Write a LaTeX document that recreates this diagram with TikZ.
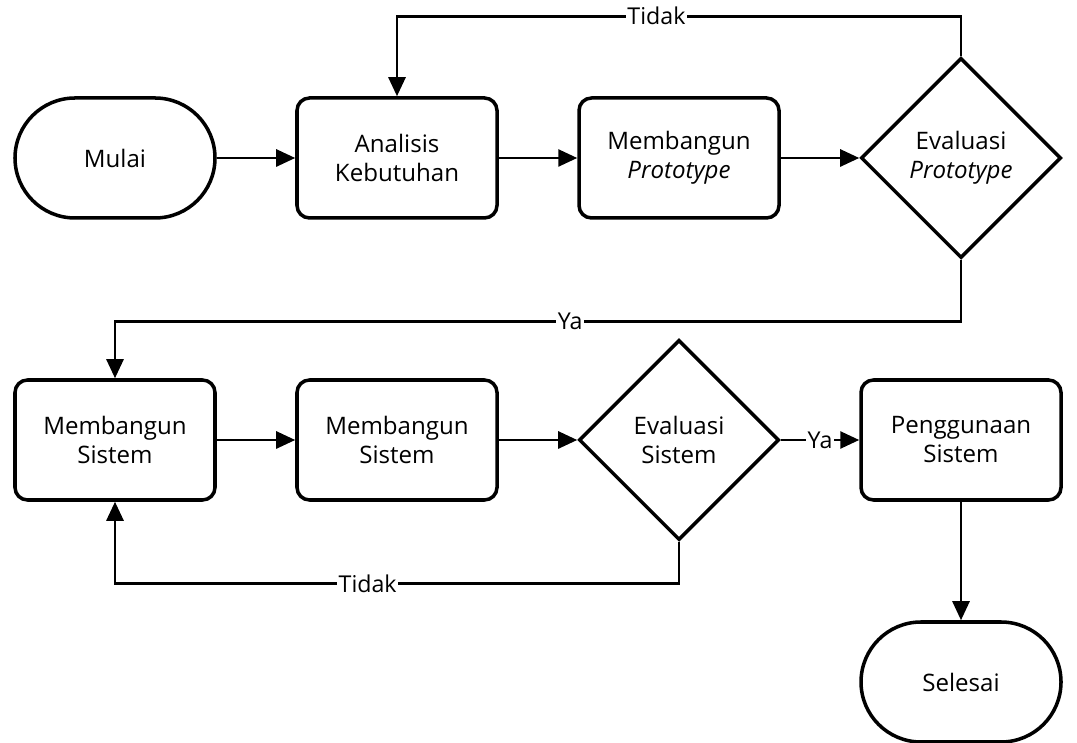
\documentclass[tikz,border=0pt]{standalone}
\usepackage{fontspec}
\setmainfont{Open Sans}
\usetikzlibrary{arrows.meta,positioning,shapes.geometric}
\tikzset{
  procbox/.style={draw, line width=2pt, rounded corners=0.25cm, minimum width=4cm, minimum height=2.4cm, align=center, font=\fontsize{13.7}{16.5}\selectfont},
  termbox/.style={procbox, rounded corners=1.2cm},
  decbox/.style={draw, line width=2pt, diamond, minimum width=4cm, minimum height=4cm, inner sep=0pt, align=center, font=\fontsize{13.7}{16.5}\selectfont},
  flowline/.style={line width=1.5pt, -{Triangle[length=3.8mm,width=3.4mm]}},
  lbl/.style={fill=white, inner sep=1pt, font=\fontsize{13.2}{15}\selectfont}
}
\begin{document}
\begin{tikzpicture}
  \useasboundingbox (0,0) rectangle (21.54,14.84);
  % Top row
  \node[termbox] (mulai) at (2.3,11.68) {Mulai};
  \node[procbox] (anl) at (7.94,11.68) {Analisis\\Kebutuhan};
  \node[procbox] (mbp) at (13.58,11.68) {Membangun\\\textit{Prototype}};
  \node[decbox] (evp) at (19.22,11.68) {Evaluasi\\\textit{Prototype}};

  % Bottom row
  \node[procbox] (ms1) at (2.3,6.04) {Membangun\\Sistem};
  \node[procbox] (ms2) at (7.94,6.04) {Membangun\\Sistem};
  \node[decbox] (evs) at (13.58,6.04) {Evaluasi\\Sistem};
  \node[procbox] (pgs) at (19.22,6.04) {Penggunaan\\Sistem};
  \node[termbox] (sls) at (19.22,1.2) {Selesai};

  % Arrows
  \draw[flowline] (mulai) -- (anl);
  \draw[flowline] (anl) -- (mbp);
  \draw[flowline] (mbp) -- (evp);
  \draw[flowline] (evp.north) -- ++(0,0.8) -| node[lbl, pos=0.27] {Tidak} (anl.north);
  \draw[flowline] (evp.south) -- ++(0,-1.24) -| node[lbl, pos=0.231] {Ya} (ms1.north);
  \draw[flowline] (ms1) -- (ms2);
  \draw[flowline] (ms2) -- (evs);
  \draw[flowline] (evs) -- node[lbl] {Ya} (pgs);
  \draw[flowline] (evs.south) -- ++(0,-0.84) -| node[lbl, pos=0.276] {Tidak} (ms1.south);
  \draw[flowline] (pgs) -- (sls);
\end{tikzpicture}
\end{document}
